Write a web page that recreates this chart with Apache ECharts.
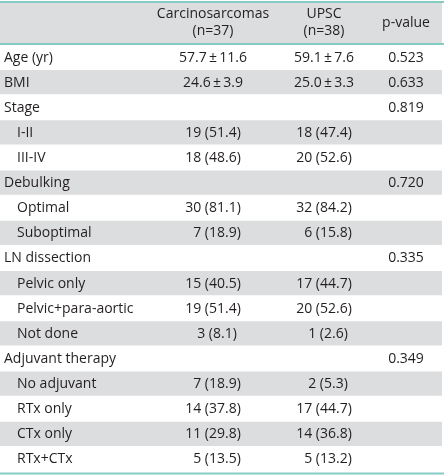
<!DOCTYPE html>
<html><head><meta charset="utf-8">
<script src="https://cdn.jsdelivr.net/npm/echarts@6/dist/echarts.min.js"></script>
<style>html,body{margin:0;padding:0;background:#fff}#c{width:444px;height:476px}</style>
</head><body><div id="c"></div>
<script>
// ---- data ----
const headerLabels = ["Carcinosarcomas\n(n=37)", "UPSC\n(n=38)", "p-value"];
const rowLabels = ["Age (yr)","BMI","Stage","I-II","III-IV","Debulking","Optimal","Suboptimal",
  "LN dissection","Pelvic only","Pelvic+para-aortic","Not done","Adjuvant therapy",
  "No adjuvant","RTx only","CTx only","RTx+CTx"];
const rowIndent = [0,0,0,1,1,0,1,1,0,1,1,1,0,1,1,1,1];
const carcinosarcomas = ["57.7\u2009\u00b1\u200911.6","24.6\u2009\u00b1\u20093.9","","19 (51.4)","18 (48.6)","","30 (81.1)","\u20077 (18.9)",
  "","15 (40.5)","19 (51.4)","\u20073 (8.1)","","\u20077 (18.9)","14 (37.8)","11 (29.8)","\u20075 (13.5)"];
const upsc = ["59.1\u2009\u00b1\u20097.6","25.0\u2009\u00b1\u20093.3","","18 (47.4)","20 (52.6)","","32 (84.2)","\u20076 (15.8)",
  "","17 (44.7)","20 (52.6)","\u20071 (2.6)","","\u20072 (5.3)","17 (44.7)","14 (36.8)","\u20075 (13.2)"];
const pValues = ["0.523","0.633","0.819","","","0.720","","","0.335","","","","0.349","","","",""];

// ---- layout / style ----
const W = 444;
const L = { labelX: 4, indentX: 17, c1: 213, c2: 324, c3: 406, shadeRight: 442 };
const GRAY = '#dcdddf', TEAL = '#86cbc3', INK = '#231f20';
const FONT = '"Open Sans", "Noto Sans", sans-serif';
const FS = 14;
const headTop = 2, headBottom = 44, bodyTop = 45, bodyBottom = 472;

const chart = echarts.init(document.getElementById('c'), null, { renderer: 'canvas' });

function renderRow(params, api) {
  const i = api.value(0);
  const c = api.coord([0, i]);
  const h = api.size([0, 1])[1];
  const y = c[1];
  const x = (v) => api.coord([v, i])[0];
  const children = [];
  if (i % 2 === 1) {
    children.push({ type: 'rect', shape: { x: x(0), y: y - h / 2, width: x(L.shadeRight) - x(0), height: h - 1 },
      style: { fill: GRAY } });
  }
  const t = (str, px, align) => ({ type: 'text', x: px, y: y, style: { text: str, fill: INK,
    font: FS + 'px ' + FONT, align: align, verticalAlign: 'middle' } });
  children.push(t(rowLabels[i], x(rowIndent[i] ? L.indentX : L.labelX), 'left'));
  if (carcinosarcomas[i]) children.push(t(carcinosarcomas[i], x(L.c1), 'center'));
  if (upsc[i]) children.push(t(upsc[i], x(L.c2), 'center'));
  if (pValues[i]) children.push(t(pValues[i], x(L.c3), 'center'));
  return { type: 'group', children };
}

const headerText = (str, cx) => ({ type: 'text', x: cx, y: (headTop + headBottom) / 2,
  style: { text: str, fill: INK, font: FS + 'px ' + FONT, align: 'center', verticalAlign: 'middle', lineHeight: 17 } });

chart.setOption({
  animation: false,
  grid: { left: 0, right: 0, top: bodyTop, bottom: 476 - bodyBottom },
  xAxis: { type: 'value', min: 0, max: W, show: false },
  yAxis: { type: 'category', data: rowLabels, inverse: true, show: false },
  series: [{
    type: 'custom',
    renderItem: renderRow,
    encode: { y: 0 },
    data: rowLabels.map((_, i) => [i])
  }],
  graphic: [
    { type: 'rect', shape: { x: 0, y: headTop, width: L.shadeRight, height: headBottom - headTop }, style: { fill: GRAY }, z: -1 },
    { type: 'line', shape: { x1: 0, y1: headTop, x2: W, y2: headTop }, style: { stroke: TEAL, lineWidth: 2 } },
    { type: 'line', shape: { x1: 0, y1: headBottom, x2: W, y2: headBottom }, style: { stroke: TEAL, lineWidth: 2 } },
    { type: 'line', shape: { x1: 0, y1: bodyBottom + 1.5, x2: W, y2: bodyBottom + 1.5 }, style: { stroke: TEAL, lineWidth: 2 } },
    headerText(headerLabels[0], L.c1),
    headerText(headerLabels[1], L.c2),
    headerText(headerLabels[2], L.c3)
  ]
});
</script></body></html>
